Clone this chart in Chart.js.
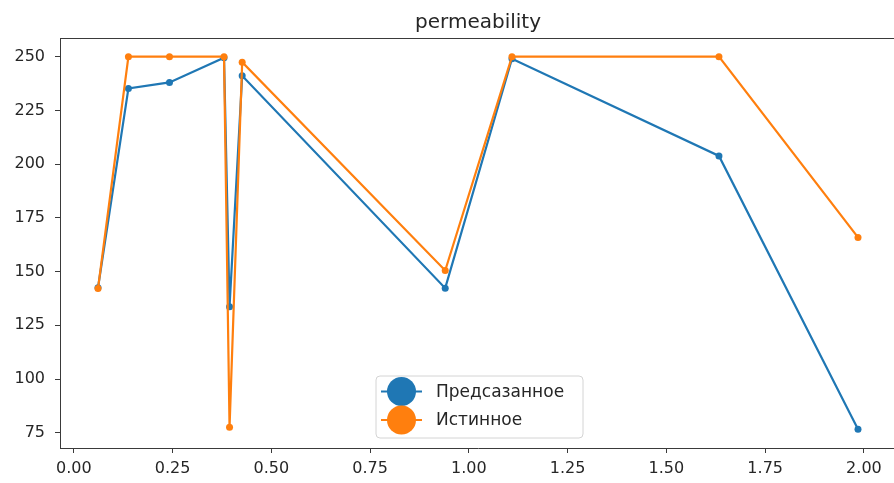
<!DOCTYPE html>
<html>
<head>
<meta charset="utf-8">
<script src="https://cdn.jsdelivr.net/npm/chart.js@4/dist/chart.umd.min.js"></script>
<style>
  html, body { margin: 0; padding: 0; background: #fff; overflow: hidden; }
  #wrap { position: absolute; left: 0; top: 0; width: 910px; height: 483px; }
</style>
</head>
<body>
<div id="wrap"><canvas id="c" width="910" height="483"></canvas></div>
<script>
// depth samples (x) and permeability values for both series
const depth = [0.061, 0.138, 0.242, 0.380, 0.394, 0.426, 0.940, 1.109, 1.633, 1.985];
const predicted = [142.5, 235.2, 238.0, 249.5, 133.7, 241.1, 142.3, 249.0, 203.8, 76.6];
const actual = [142.1, 250.0, 250.0, 250.0, 77.6, 247.4, 150.5, 250.0, 250.0, 165.9];
const seriesNames = ['Предсазанное', 'Истинное'];
const seriesColors = ['#1f77b4', '#ff7f0e'];
const titleText = 'permeability';

const toPoints = (xs, ys) => xs.map((x, i) => ({ x: x, y: ys[i] }));

// axis limits with 5% margins around the data
function padded(values) {
  const lo = Math.min(...values), hi = Math.max(...values);
  const m = (hi - lo) * 0.05;
  return [lo - m, hi + m];
}
const [xMin, xMax] = padded(depth);
const [yMin, yMax] = padded(predicted.concat(actual));

const FONT = 'DejaVu Sans';
const INK = '#262626';
const SPINE = '#3a3a3a';

// frame, title and legend in the plotting style
const decorations = {
  id: 'decorations',
  afterDraw(chart) {
    const { ctx, chartArea: a } = chart;
    ctx.save();
    // top spine
    ctx.strokeStyle = SPINE;
    ctx.lineWidth = 1;
    ctx.beginPath();
    ctx.moveTo(a.left, Math.round(a.top) + 0.5);
    ctx.lineTo(a.right, Math.round(a.top) + 0.5);
    ctx.stroke();

    // title
    ctx.fillStyle = INK;
    ctx.font = '20px "' + FONT + '"';
    ctx.textAlign = 'center';
    ctx.textBaseline = 'alphabetic';
    ctx.fillText(titleText, (a.left + a.right) / 2, 28);

    // legend box
    const bx = 376, by = 376, bw = 207, bh = 62, r = 4;
    ctx.beginPath();
    ctx.moveTo(bx + r, by);
    ctx.arcTo(bx + bw, by, bx + bw, by + bh, r);
    ctx.arcTo(bx + bw, by + bh, bx, by + bh, r);
    ctx.arcTo(bx, by + bh, bx, by, r);
    ctx.arcTo(bx, by, bx + bw, by, r);
    ctx.closePath();
    ctx.fillStyle = 'rgba(255,255,255,0.8)';
    ctx.fill();
    ctx.strokeStyle = '#d4d4d4';
    ctx.lineWidth = 1;
    ctx.stroke();

    const rows = [391.5, 420];
    ctx.font = '17px "' + FONT + '"';
    ctx.textAlign = 'left';
    ctx.textBaseline = 'middle';
    rows.forEach((y, i) => {
      ctx.strokeStyle = seriesColors[i];
      ctx.lineWidth = 2;
      ctx.beginPath();
      ctx.moveTo(381, y);
      ctx.lineTo(422, y);
      ctx.stroke();
      ctx.fillStyle = seriesColors[i];
      ctx.beginPath();
      ctx.arc(401.5, y, 14.5, 0, Math.PI * 2);
      ctx.fill();
      ctx.fillStyle = INK;
      ctx.fillText(seriesNames[i], 436, y + 1);
    });
    ctx.restore();
  }
};

const tickStyle = { color: INK, font: { family: FONT, size: 16 } };

new Chart(document.getElementById('c'), {
  type: 'line',
  data: {
    datasets: [
      {
        label: seriesNames[0],
        data: toPoints(depth, predicted),
        borderColor: seriesColors[0],
        backgroundColor: seriesColors[0],
        borderWidth: 2.2,
        pointRadius: 3.5,
        pointBorderWidth: 0,
        pointHoverRadius: 3.5,
        tension: 0,
        order: 2
      },
      {
        label: seriesNames[1],
        data: toPoints(depth, actual),
        borderColor: seriesColors[1],
        backgroundColor: seriesColors[1],
        borderWidth: 2.2,
        pointRadius: 3.5,
        pointBorderWidth: 0,
        pointHoverRadius: 3.5,
        tension: 0,
        order: 1
      }
    ]
  },
  options: {
    responsive: false,
    animation: false,
    events: [],
    layout: { padding: { top: 38, right: 14, left: 0, bottom: 0 } },
    plugins: { legend: { display: false }, title: { display: false }, tooltip: { enabled: false } },
    scales: {
      x: {
        type: 'linear',
        min: xMin,
        max: xMax,
        afterFit(scale) { scale.height = 35; },
        border: { display: true, color: SPINE, width: 1 },
        grid: { drawOnChartArea: false, drawTicks: true, tickLength: 5, tickColor: SPINE },
        ticks: Object.assign({
          stepSize: 0.25,
          includeBounds: false,
          padding: 6,
          maxRotation: 0,
          autoSkip: false,
          callback: v => Number(v).toFixed(2)
        }, tickStyle)
      },
      y: {
        type: 'linear',
        min: yMin,
        max: yMax,
        afterFit(scale) { scale.width = 60; },
        border: { display: true, color: SPINE, width: 1 },
        grid: { drawOnChartArea: false, drawTicks: true, tickLength: 5, tickColor: SPINE },
        ticks: Object.assign({
          stepSize: 25,
          includeBounds: false,
          padding: 10,
          autoSkip: false,
          callback: v => String(Math.round(v))
        }, tickStyle)
      }
    }
  },
  plugins: [decorations]
});
</script>
</body>
</html>
